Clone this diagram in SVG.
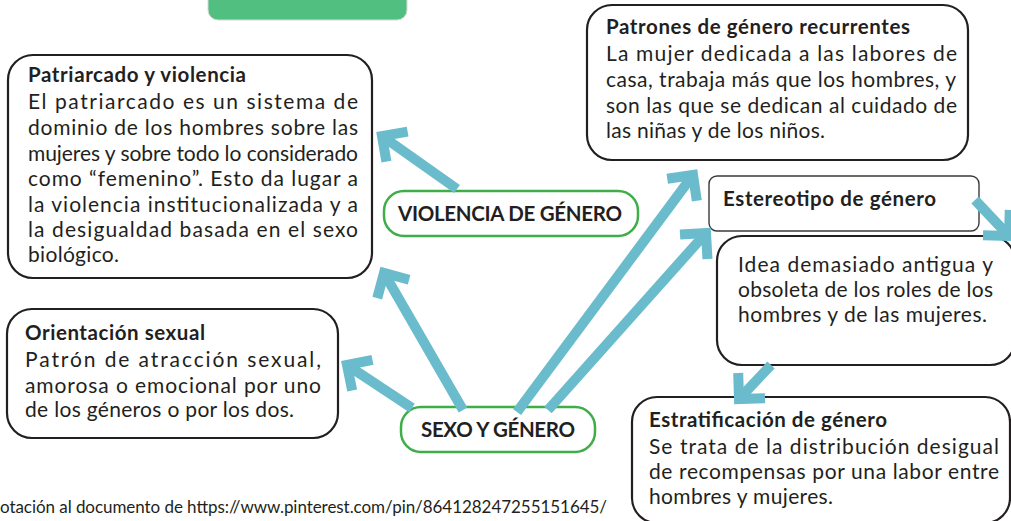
<svg xmlns="http://www.w3.org/2000/svg" width="1011" height="521" viewBox="0 0 1011 521">
<style>
text{font-family:Lato,"Liberation Sans",sans-serif;fill:#231f20;}
.t{font-size:20.5px;font-weight:bold;}
.b{font-size:21px;}
.box{fill:#fff;stroke:#231f20;stroke-width:2.2;}
.thin{fill:#fff;stroke:#3a3a3a;stroke-width:1.4;}
.gbox{fill:#fff;stroke:#3fae49;stroke-width:2.5;}
.arr{fill:none;stroke:#6abccd;stroke-width:10;marker-end:url(#chev);}
</style>
<defs>
<marker id="chev" markerUnits="userSpaceOnUse" viewBox="-30 -30 45 60" refX="0" refY="0" markerWidth="45" markerHeight="60" orient="auto" overflow="visible">
<path d="M-18.4,-18.4 L0,0 L-18.4,18.4" fill="none" stroke="#6abccd" stroke-width="10" stroke-linejoin="miter"/>
</marker>
</defs>
<rect width="1011" height="521" fill="#fff"/>
<g id="top-block">
<rect x="208" y="-30" width="199" height="50" rx="10" fill="#50bf80" stroke="#d8d8d8" stroke-width="1"/>
</g>
<g id="patriarcado">
<rect class="box" x="8" y="55" width="364" height="223" rx="25"/>
<text class="t" x="28" y="82" textLength="218" lengthAdjust="spacing">Patriarcado y violencia</text>
<text class="b" x="28" y="109" textLength="330" lengthAdjust="spacing">El patriarcado es un sistema de</text>
<text class="b" x="28" y="135" textLength="330" lengthAdjust="spacing">dominio de los hombres sobre las</text>
<text class="b" x="28" y="161" textLength="330" lengthAdjust="spacing">mujeres y sobre todo lo considerado</text>
<text class="b" x="28" y="186" textLength="330" lengthAdjust="spacing">como “femenino”. Esto da lugar a</text>
<text class="b" x="28" y="212" textLength="330" lengthAdjust="spacing">la violencia institucionalizada y a</text>
<text class="b" x="28" y="237" textLength="330" lengthAdjust="spacing">la desigualdad basada en el sexo</text>
<text class="b" x="28" y="262" textLength="91" lengthAdjust="spacing">biológico.</text>
</g>
<g id="patrones">
<rect class="box" x="587" y="5" width="381" height="155" rx="25"/>
<text class="t" x="606" y="34" textLength="304" lengthAdjust="spacing">Patrones de género recurrentes</text>
<text class="b" x="606" y="61" textLength="351" lengthAdjust="spacing">La mujer dedicada a las labores de</text>
<text class="b" x="606" y="87" textLength="350" lengthAdjust="spacing">casa, trabaja más que los hombres, y</text>
<text class="b" x="606" y="113" textLength="351" lengthAdjust="spacing">son las que se dedican al cuidado de</text>
<text class="b" x="606" y="138" textLength="219" lengthAdjust="spacing">las niñas y de los niños.</text>
</g>
<g id="estereotipo">
<rect class="thin" x="709" y="176" width="270" height="55" rx="8"/>
<text class="t" x="723" y="206" textLength="213" lengthAdjust="spacing">Estereotipo de género</text>
</g>
<g id="idea">
<rect class="box" x="717" y="236" width="298" height="129" rx="25"/>
<text class="b" x="738" y="272" textLength="255" lengthAdjust="spacing">Idea demasiado antigua y</text>
<text class="b" x="738" y="297" textLength="255" lengthAdjust="spacing">obsoleta de los roles de los</text>
<text class="b" x="738" y="322" textLength="249" lengthAdjust="spacing">hombres y de las mujeres.</text>
</g>
<g id="estratificacion">
<rect class="box" x="632" y="397" width="378" height="126" rx="25"/>
<text class="t" x="649" y="427" textLength="238" lengthAdjust="spacing">Estratificación de género</text>
<text class="b" x="649" y="454" textLength="350" lengthAdjust="spacing">Se trata de la distribución desigual</text>
<text class="b" x="649" y="479" textLength="350" lengthAdjust="spacing">de recompensas por una labor entre</text>
<text class="b" x="649" y="504" textLength="184" lengthAdjust="spacing">hombres y mujeres.</text>
</g>
<g id="orientacion">
<rect class="box" x="7" y="309" width="331" height="129" rx="25"/>
<text class="t" x="25" y="340" textLength="180" lengthAdjust="spacing">Orientación sexual</text>
<text class="b" x="25" y="367" textLength="296" lengthAdjust="spacing">Patrón de atracción sexual,</text>
<text class="b" x="25" y="393" textLength="296" lengthAdjust="spacing">amorosa o emocional por uno</text>
<text class="b" x="25" y="417" textLength="269" lengthAdjust="spacing">de los géneros o por los dos.</text>
</g>
<g id="violencia">
<rect class="gbox" x="384" y="191" width="254" height="45" rx="20"/>
<text class="t" x="398" y="221" textLength="224" lengthAdjust="spacing">VIOLENCIA DE GÉNERO</text>
</g>
<g id="sexo">
<rect class="gbox" x="401" y="407" width="194" height="45" rx="20"/>
<text class="t" x="421" y="437" textLength="154" lengthAdjust="spacing">SEXO Y GÉNERO</text>
</g>
<g id="connectors">
<path class="arr" d="M457,189 L382,136"/>
<path class="arr" d="M463,410 L384,273"/>
<path class="arr" d="M412,408 L347,365"/>
<path class="arr" d="M517,412 L693,175"/>
<path class="arr" d="M548,410 L706,233"/>
<path class="arr" d="M975,200 L1009,236"/>
<path class="arr" d="M771,365 L739,399"/>
</g>
<text x="0" y="513" style="font-size:17px" textLength="607" lengthAdjust="spacing">otación al documento de https://www.pinterest.com/pin/864128247255151645/</text>
</svg>
